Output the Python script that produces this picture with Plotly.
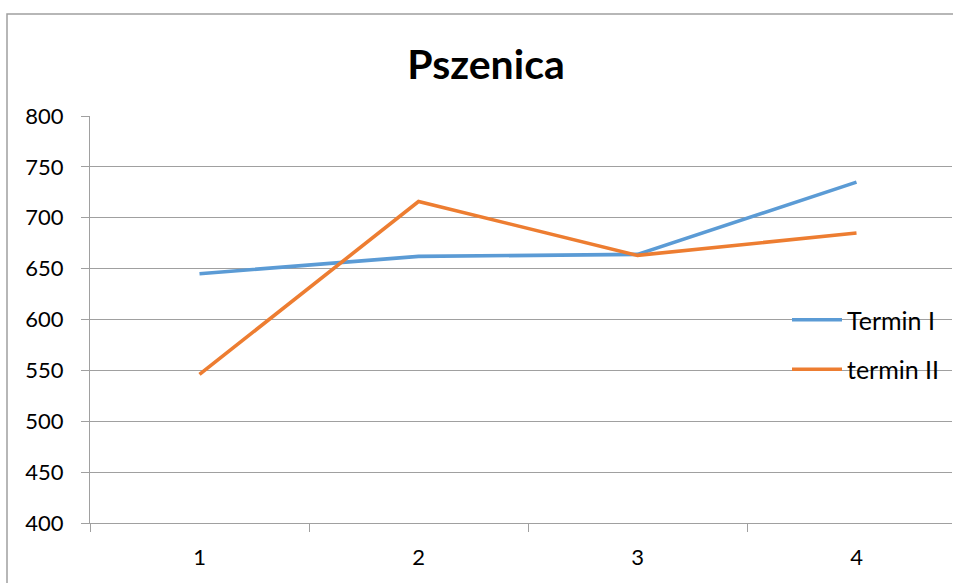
import plotly.graph_objects as go

categories = [1, 2, 3, 4]
tick_labels = ["1", "2", "3", "4"]
termin_I = [645, 662, 664, 735]
termin_II = [546, 716, 663, 685]
y_ticks = [400, 450, 500, 550, 600, 650, 700, 750, 800]

FONT = "Lato"
GRID = "#a0a0a0"

fig = go.Figure()
fig.add_trace(go.Scatter(x=categories, y=termin_I, mode="lines", name="Termin I",
                         line=dict(color="#5B9BD5", width=3.6), legendgroup="a"))
fig.add_trace(go.Scatter(x=categories, y=termin_II, mode="lines", name="termin II",
                         line=dict(color="#ED7D31", width=3.6), legendgroup="b"))

W, H = 953, 583
L, R, T, B = 90, 1, 116, 60
pw = W - L - R
ph = H - T - B

fig.update_layout(
    width=W, height=H,
    margin=dict(l=L, r=R, t=T, b=B, pad=0),
    paper_bgcolor="white", plot_bgcolor="white",
    font=dict(family=FONT, size=22, color="black"),
    title=dict(text="<b>Pszenica</b>", x=(486 - L) / pw, xref="paper", xanchor="center",
               y=1 - 65 / H, yanchor="middle", font=dict(size=41, family=FONT, color="black")),
    showlegend=True,
    legend=dict(x=(787 - L) / pw, xanchor="left", y=(523 - 344.5) / ph, yanchor="middle",
                bgcolor="rgba(0,0,0,0)", font=dict(size=25, family=FONT),
                tracegroupgap=14, itemwidth=50, traceorder="grouped"),
    xaxis=dict(range=[0.5, 0.5 + pw / 219.0], tickvals=categories, ticktext=tick_labels,
               showgrid=False, zeroline=False, showline=True, linecolor=GRID, linewidth=1,
               ticks="", ticklabelstandoff=15,
               minor=dict(ticks="outside", tick0=0.5, dtick=1, ticklen=8, tickcolor=GRID,
                          showgrid=False)),
    yaxis=dict(range=[400, 800], tickvals=y_ticks, showgrid=True, gridcolor=GRID, gridwidth=1,
               zeroline=False, showline=True, linecolor=GRID, linewidth=1,
               ticks="outside", ticklen=8, tickcolor=GRID, ticklabelstandoff=13),
)

# outer chart border (left and top edges visible)
fig.add_shape(type="rect", xref="paper", yref="paper",
              x0=(7 - L) / pw, x1=(1000 - L) / pw, y0=(523 - 700) / ph, y1=(523 - 14) / ph,
              line=dict(color="#a0a0a0", width=1.5), fillcolor="rgba(0,0,0,0)", layer="below")

fig.write_html("out.html", config={"displayModeBar": False},
               post_script="document.body.style.margin='0';document.body.style.overflow='hidden';")
